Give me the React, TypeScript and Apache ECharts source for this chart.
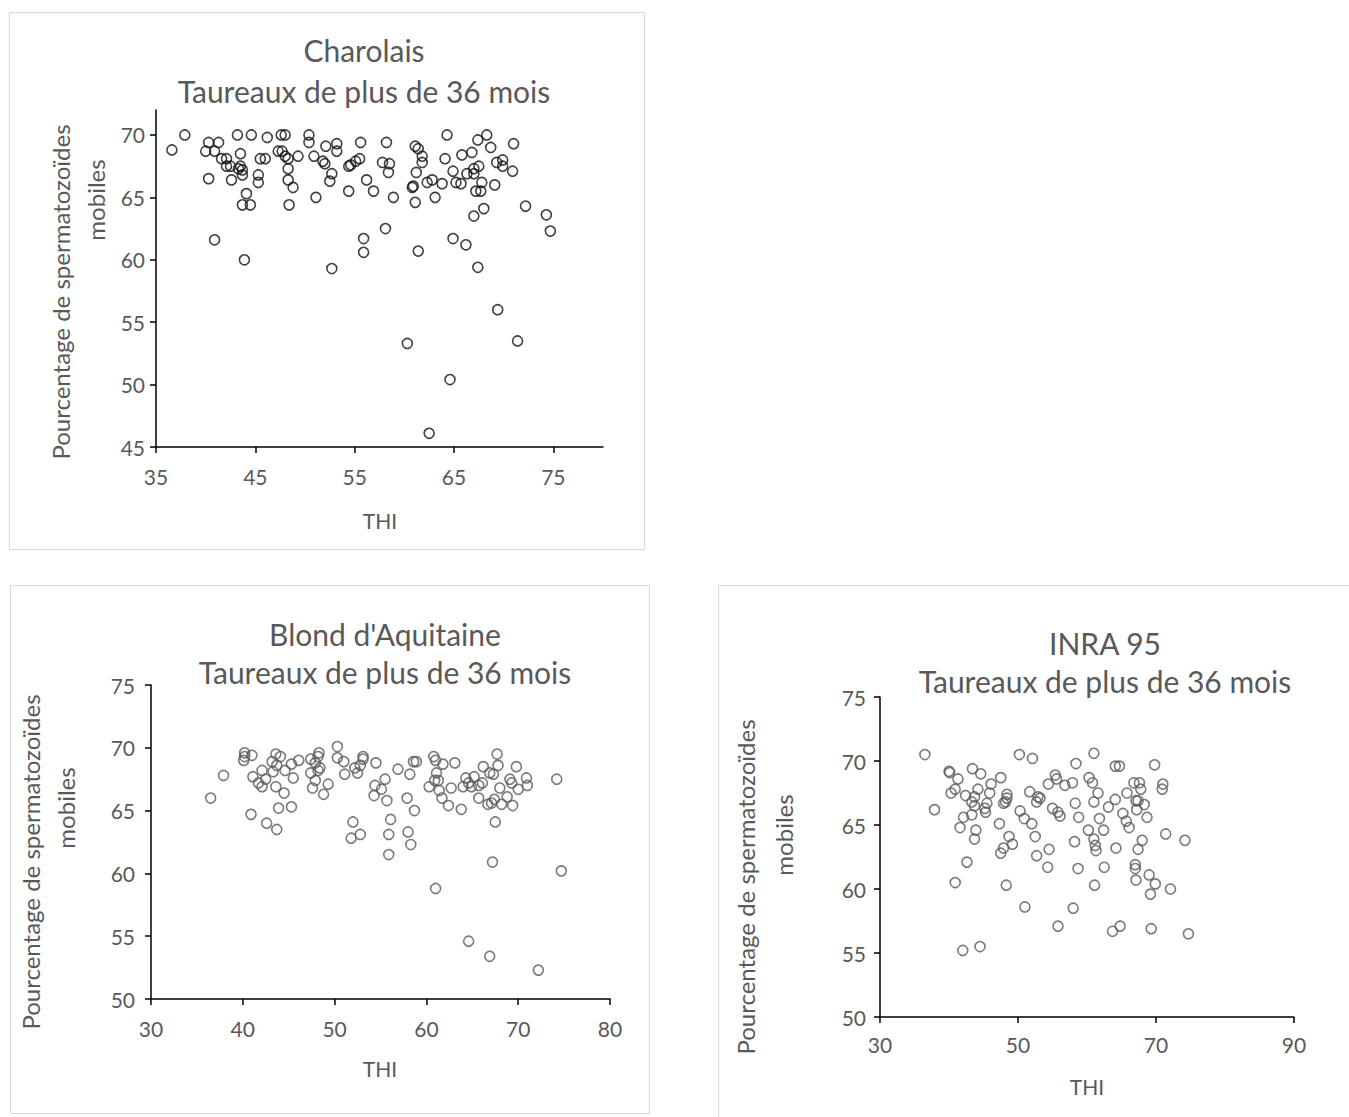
import React, { useEffect, useRef } from "react";
import * as echarts from "echarts";

// ---------- DATA ----------
const charolaisTHI = [
  36.6, 37.9, 40.3, 40.0, 41.3, 40.9, 41.6, 42.1, 42.1, 42.5, 43.5, 43.5, 43.7, 43.7, 43.3, 40.3, 42.6, 44.1, 43.7, 44.5,
  43.2, 44.6, 46.2, 47.6, 48.0, 47.3, 47.7, 48.0, 48.3, 49.3, 45.5, 46.0, 45.3, 45.3, 48.3, 48.3, 48.8, 48.4, 50.4, 50.4,
  50.9, 51.8, 52.0, 52.1, 53.2, 53.2, 52.7, 52.5, 51.1, 54.4, 54.6, 55.1, 55.5, 55.6, 56.2, 54.4, 56.9, 40.9, 43.9, 52.7,
  55.9, 55.9, 58.1,
  58.2, 57.8, 58.5, 58.4, 58.9, 61.1, 61.4, 61.8, 61.8, 61.2, 60.9, 60.8, 61.1, 62.3, 62.8, 63.8, 63.1, 64.3, 64.1, 64.9,
  65.8, 66.8, 65.2, 65.7, 66.3, 67.0, 67.0, 67.5, 67.4, 68.3, 68.7, 67.8, 67.2, 67.7, 69.3, 69.9, 69.9, 70.9, 71.0, 69.1,
  68.0, 67.0, 72.2, 74.3, 74.7, 64.9, 66.2, 61.4, 67.4,
  60.3, 69.4, 71.4, 64.6, 62.5,
];
const charolaisMotility = [
  68.8, 70.0, 69.4, 68.7, 69.4, 68.7, 68.1, 68.1, 67.5, 67.5, 68.5, 67.5, 67.2, 66.8, 67.3, 66.5, 66.4, 65.3, 64.4, 64.4,
  70.0, 70.0, 69.8, 70.0, 70.0, 68.7, 68.7, 68.3, 68.1, 68.3, 68.1, 68.1, 66.8, 66.2, 67.3, 66.4, 65.8, 64.4, 70.0, 69.4,
  68.3, 67.9, 67.7, 69.1, 69.3, 68.7, 66.9, 66.3, 65.0, 67.5, 67.6, 67.9, 68.1, 69.4, 66.4, 65.5, 65.5, 61.6, 60.0, 59.3,
  61.7, 60.6, 62.5,
  69.4, 67.8, 67.7, 67.0, 65.0, 69.1, 68.9, 68.3, 67.8, 67.0, 65.9, 65.8, 64.6, 66.2, 66.4, 66.1, 65.0, 70.0, 68.1, 67.1,
  68.4, 68.6, 66.2, 66.1, 66.9, 67.3, 66.9, 67.5, 69.6, 70.0, 69.0, 66.2, 65.5, 65.5, 67.8, 68.0, 67.5, 67.1, 69.3, 66.0,
  64.1, 63.5, 64.3, 63.6, 62.3, 61.7, 61.2, 60.7, 59.4,
  53.3, 56.0, 53.5, 50.4, 46.1,
];

const blondTHI = [
  37.9, 36.5, 40.2, 41.0, 40.1, 40.2, 41.1, 42.1, 41.7, 42.1, 42.5, 43.6, 44.1, 43.2, 43.7, 43.3, 44.6, 45.3, 46.1, 45.5,
  43.6, 44.5, 43.9, 45.3, 40.9, 42.6, 43.7, 47.4, 48.3, 48.2, 47.9, 48.4, 48.2, 47.4, 47.9, 49.3, 47.6, 48.8, 50.3, 50.3,
  51.0, 51.1, 52.2, 52.5, 52.8, 53.1, 53.1, 54.5, 54.4, 54.3, 52.0, 52.8, 51.8,
  56.9, 58.2, 58.6, 58.9, 60.8, 61.0, 61.8, 63.1, 61.1, 60.9, 61.3, 60.3, 61.4, 61.7, 62.4, 62.7, 63.8, 55.5, 55.1, 55.7,
  57.9, 58.7, 56.1, 55.9, 58.0, 58.3, 55.9, 67.7, 67.8, 66.2, 66.9, 67.3, 69.8, 64.3, 65.2, 64.6, 64.9, 64.0, 66.1, 65.7,
  68.0, 69.1, 69.3, 70.0, 70.9, 71.0, 74.2, 65.7, 67.4, 66.7, 67.1, 68.2, 68.8, 69.4, 67.5, 67.2, 74.7, 61.0, 64.6, 66.9,
  72.2,
];
const blondMotility = [
  67.8, 66.0, 69.6, 69.4, 69.0, 69.3, 67.7, 68.2, 67.2, 66.9, 67.5, 69.5, 69.3, 68.9, 68.6, 68.1, 68.2, 68.7, 69.0, 67.6,
  66.9, 66.4, 65.2, 65.3, 64.7, 64.0, 63.5, 69.1, 69.6, 69.3, 68.8, 68.4, 68.2, 68.0, 67.4, 67.1, 66.8, 66.3, 70.1, 69.2,
  68.9, 67.9, 68.4, 68.0, 68.6, 69.3, 69.1, 68.8, 67.0, 66.2, 64.1, 63.1, 62.8,
  68.3, 67.9, 68.9, 68.9, 69.3, 69.0, 68.7, 68.8, 68.0, 67.4, 67.4, 66.9, 66.6, 66.0, 65.4, 66.8, 65.1, 67.5, 66.7, 65.8,
  66.0, 65.0, 64.3, 63.1, 63.3, 62.3, 61.5, 69.5, 68.6, 68.5, 68.0, 67.9, 68.5, 67.6, 67.7, 67.2, 66.9, 66.9, 67.2, 67.0,
  66.8, 67.5, 67.2, 66.7, 67.6, 67.0, 67.5, 66.0, 65.9, 65.5, 65.6, 65.5, 66.1, 65.4, 64.1, 60.9, 60.2, 58.8, 54.6, 53.4,
  52.3,
];

const inraTHI = [
  36.5, 37.9, 40.0, 40.1, 41.3, 40.9, 40.3, 42.4, 43.4, 44.6, 44.2, 43.7, 43.3, 43.7, 43.3, 42.1, 41.6, 43.9, 43.7, 42.6,
  40.9, 46.1, 47.5, 45.9, 45.5, 45.2, 45.3, 48.4, 48.4, 48.2, 47.9, 47.3, 48.7, 49.2, 47.9, 47.5, 48.3, 50.2, 52.1, 51.7,
  52.9, 53.2, 52.7, 50.3, 50.9, 52.0, 52.5, 52.7, 54.5, 54.3, 55.4, 55.6, 54.4, 56.8, 57.9, 58.4, 55.0, 55.8, 56.1, 58.3,
  58.8, 58.2, 58.7,
  61.0, 64.1, 64.7, 69.8, 60.3, 60.8, 66.8, 67.6, 67.8, 71.0, 70.9, 65.8, 61.6, 61.0, 64.1, 63.1, 67.1, 67.4, 68.3, 67.2,
  68.7, 65.2, 65.7, 66.1, 61.8, 60.2, 62.4, 61.0, 61.2, 61.3, 64.2, 68.0, 67.4, 71.4, 74.2, 62.5, 67.0, 67.0, 69.0, 67.1,
  69.9, 69.2, 72.1, 61.1,
  51.0, 58.0, 55.8, 63.7, 64.8, 69.3, 74.7, 42.0, 44.5,
];
const inraMotility = [
  70.5, 66.2, 69.2, 69.1, 68.6, 67.8, 67.5, 67.3, 69.4, 69.0, 67.8, 67.2, 66.8, 66.5, 65.8, 65.6, 64.8, 64.6, 63.9, 62.1,
  60.5, 68.2, 68.7, 67.5, 66.7, 66.3, 66.0, 67.4, 67.1, 66.8, 66.7, 65.1, 64.1, 63.5, 63.2, 62.8, 60.3, 70.5, 70.2, 67.6,
  67.2, 67.1, 66.8, 66.1, 65.5, 65.1, 64.1, 62.6, 63.1, 61.7, 68.9, 68.6, 68.2, 68.1, 68.3, 69.8, 66.3, 66.0, 65.7, 66.7,
  65.6, 63.7, 61.6,
  70.6, 69.6, 69.6, 69.7, 68.7, 68.3, 68.3, 68.3, 67.8, 68.2, 67.8, 67.5, 67.5, 66.8, 67.0, 66.4, 66.9, 66.9, 66.6, 66.2,
  65.6, 65.9, 65.3, 64.8, 65.5, 64.6, 64.6, 63.9, 63.4, 63.0, 63.2, 63.8, 63.1, 64.3, 63.8, 61.7, 61.9, 61.6, 61.1, 60.7,
  60.4, 59.6, 60.0, 60.3,
  58.6, 58.5, 57.1, 56.7, 57.1, 56.9, 56.5, 55.2, 55.5,
];

const charolaisXTicks = [35, 45, 55, 65, 75];
const charolaisYTicks = [45, 50, 55, 60, 65, 70];
const blondXTicks = [30, 40, 50, 60, 70, 80];
const blondYTicks = [50, 55, 60, 65, 70, 75];
const inraXTicks = [30, 50, 70, 90];
const inraYTicks = [50, 55, 60, 65, 70, 75];

const titleLine1 = ["Charolais", "Blond d'Aquitaine", "INRA 95"];
const titleLine2 = "Taureaux de plus de 36 mois";
const yName1 = "Pourcentage de spermatozoïdes";
const yName2 = "mobiles";
const xName = "THI";

// ---------- STYLE ----------
const FONT = "Lato, 'Open Sans', sans-serif";
const TEXT_COLOR = "#595959";
const AXIS_COLOR = "#000000";
const TICK_FONT = 21;
const TITLE_FONT = 30;
const YNAME_FONT = 24;
const XNAME_FONT = 21;

const zip = (xs: number[], ys: number[]) => xs.map((x, i) => [x, ys[i]]);

function makeX(gridIndex: number, min: number, max: number, ticks: number[], margin: number) {
  return {
    type: "value",
    gridIndex,
    min,
    max,
    splitLine: { show: false },
    axisLine: { show: true, onZero: false, lineStyle: { color: AXIS_COLOR, width: 1.5 } },
    axisTick: { show: true, length: 6, customValues: ticks, lineStyle: { color: AXIS_COLOR, width: 1.5 } },
    axisLabel: { customValues: ticks, margin, fontSize: TICK_FONT, color: TEXT_COLOR, fontFamily: FONT },
  };
}
function makeY(gridIndex: number, min: number, max: number, ticks: number[], margin: number) {
  return {
    type: "value",
    gridIndex,
    min,
    max,
    splitLine: { show: false },
    axisLine: { show: true, onZero: false, lineStyle: { color: AXIS_COLOR, width: 1.5 } },
    axisTick: { show: true, length: 6, customValues: ticks, lineStyle: { color: AXIS_COLOR, width: 1.5 } },
    axisLabel: { customValues: ticks, margin, fontSize: TICK_FONT, color: TEXT_COLOR, fontFamily: FONT },
  };
}
function txt(x: number, y: number, text: string, size: number, rotation = 0) {
  return {
    type: "text",
    x,
    y,
    rotation,
    silent: true,
    style: {
      text,
      fill: TEXT_COLOR,
      font: `${size}px ${FONT}`,
      align: "center",
      verticalAlign: "middle",
    },
  };
}
function box(x: number, y: number, w: number, h: number) {
  return {
    type: "rect",
    silent: true,
    shape: { x: x + 0.5, y: y + 0.5, width: w, height: h },
    style: { fill: "none", stroke: "#d9d9d9", lineWidth: 1 },
  };
}

export default function App() {
  const ref = useRef<HTMLDivElement>(null);
  useEffect(() => {
    if (!ref.current) return;
    const chart = echarts.init(ref.current, null, { renderer: "svg" });
    const R = Math.PI / 2;
    const marker = (color: string) => ({ color: "rgba(0,0,0,0)", borderColor: color, borderWidth: 1.6 });
    const option = {
      animation: false,
      backgroundColor: "#ffffff",
      grid: [
        { left: 156, top: 110, width: 447, height: 337 },
        { left: 151, top: 685, width: 459, height: 314 },
        { left: 880, top: 697, width: 414, height: 320 },
      ],
      xAxis: [
        makeX(0, 35, 80, charolaisXTicks, 19),
        makeX(1, 30, 80, blondXTicks, 19),
        makeX(2, 30, 90, inraXTicks, 17),
      ],
      yAxis: [
        makeY(0, 45, 72, charolaisYTicks, 11),
        makeY(1, 50, 75, blondYTicks, 16),
        makeY(2, 50, 75, inraYTicks, 14),
      ],
      series: [
        {
          type: "scatter",
          xAxisIndex: 0,
          yAxisIndex: 0,
          symbol: "circle",
          symbolSize: 10,
          itemStyle: marker("#111111"),
          data: zip(charolaisTHI, charolaisMotility),
        },
        {
          type: "scatter",
          xAxisIndex: 1,
          yAxisIndex: 1,
          symbol: "circle",
          symbolSize: 10,
          itemStyle: marker("#5a5a5a"),
          data: zip(blondTHI, blondMotility),
        },
        {
          type: "scatter",
          xAxisIndex: 2,
          yAxisIndex: 2,
          symbol: "circle",
          symbolSize: 10,
          itemStyle: marker("#5a5a5a"),
          data: zip(inraTHI, inraMotility),
        },
      ],
      graphic: [
        box(9, 12, 635, 537),
        box(10, 585, 639, 528),
        box(718, 585, 660, 560),
        txt(364, 50, titleLine1[0], TITLE_FONT),
        txt(364, 91, titleLine2, TITLE_FONT),
        txt(385, 634, titleLine1[1], TITLE_FONT),
        txt(385, 672, titleLine2, TITLE_FONT),
        txt(1105, 643, titleLine1[2], TITLE_FONT),
        txt(1105, 681, titleLine2, TITLE_FONT),
        txt(380, 520, xName, XNAME_FONT),
        txt(380, 1068, xName, XNAME_FONT),
        txt(1087, 1086, xName, XNAME_FONT),
        txt(60, 292, yName1, YNAME_FONT, R),
        txt(95, 200, yName2, YNAME_FONT, R),
        txt(30, 862, yName1, YNAME_FONT, R),
        txt(65, 808, yName2, YNAME_FONT, R),
        txt(745, 887, yName1, YNAME_FONT, R),
        txt(783, 835, yName2, YNAME_FONT, R),
      ],
    };
    chart.setOption(option as any);
    return () => chart.dispose();
  }, []);
  return (
    <div
      ref={ref}
      style={{ position: "absolute", left: 0, top: 0, width: 1349, height: 1117, background: "#fff" }}
    />
  );
}
